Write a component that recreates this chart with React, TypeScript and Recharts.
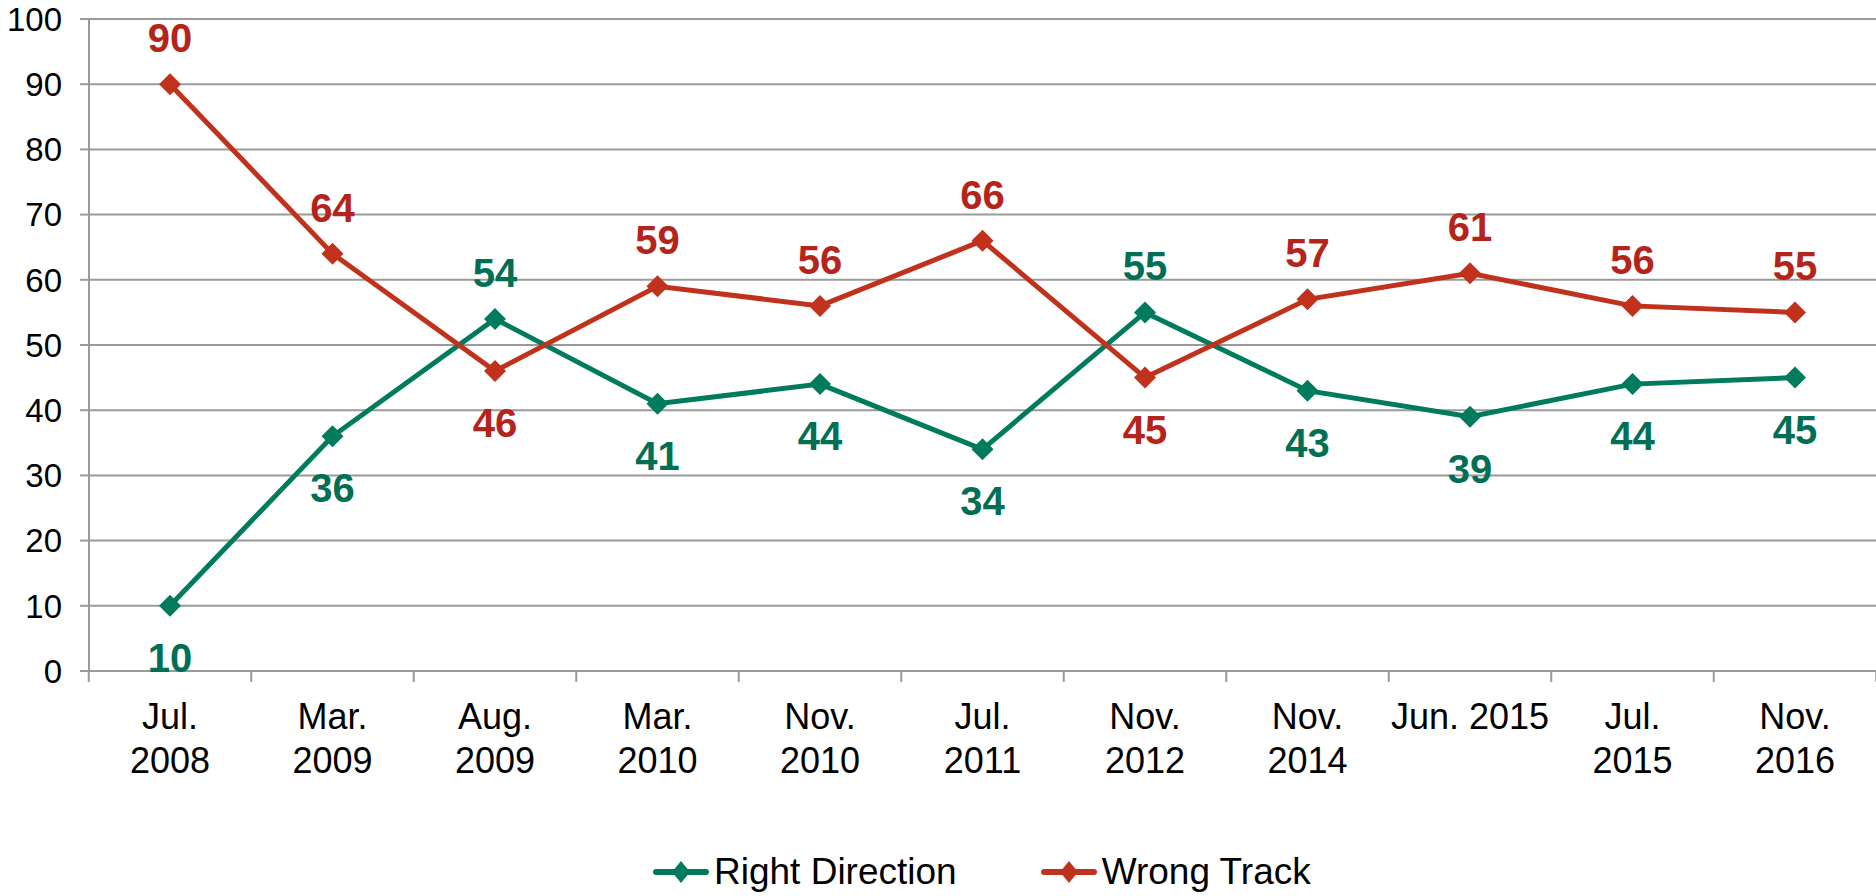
import { LineChart, Line, XAxis, YAxis, CartesianGrid, Legend } from "recharts";

// Right direction / wrong track survey series.
const periods = [
  "Jul.\n2008",
  "Mar.\n2009",
  "Aug.\n2009",
  "Mar.\n2010",
  "Nov.\n2010",
  "Jul.\n2011",
  "Nov.\n2012",
  "Nov.\n2014",
  "Jun. 2015",
  "Jul.\n2015",
  "Nov.\n2016",
];
const rightDirection = [10, 36, 54, 41, 44, 34, 55, 43, 39, 44, 45];
const wrongTrack = [90, 64, 46, 59, 56, 66, 45, 57, 61, 56, 55];
const yTicks = [0, 10, 20, 30, 40, 50, 60, 70, 80, 90, 100];

const data = periods.map((p, i) => ({
  period: p,
  right: rightDirection[i],
  wrong: wrongTrack[i],
}));

const W = 1876;
const H = 896;
const FONT = '"Liberation Sans", Arial, sans-serif';
const GRID = "#9a9a9a";
const GREEN = "#007b5d";
const RED = "#c0321c";
const GREEN_TEXT = "#006f53";
const RED_TEXT = "#b5241a";
const STEP = 162.5; // distance between categories

function Diamond({ cx, cy, fill, half = 11 }: any) {
  if (cx == null || cy == null) return null;
  return (
    <path
      d={`M${cx},${cy - half} L${cx + half},${cy} L${cx},${cy + half} L${cx - half},${cy} Z`}
      fill={fill}
    />
  );
}

function PeriodTick({ x, y, payload, index, visibleTicksCount }: any) {
  const lines = String(payload.value).split("\n");
  const half = STEP / 2;
  return (
    <g>
      <line x1={x - half} y1={y} x2={x - half} y2={y + 11} stroke={GRID} strokeWidth={2} />
      {index === visibleTicksCount - 1 && (
        <line x1={x + half} y1={y} x2={x + half} y2={y + 11} stroke={GRID} strokeWidth={2} />
      )}
      <text x={x} y={y} textAnchor="middle" fontFamily={FONT} fontSize={36} fill="#000">
        {lines.map((l, i) => (
          <tspan key={i} x={x} y={y + 58 + i * 44}>
            {l}
          </tspan>
        ))}
      </text>
    </g>
  );
}

// value labels sit above the point when that series is the higher one
function makeLabel(own: number[], other: number[], color: string) {
  return (props: any) => {
    const { x, y, index } = props;
    const above = own[index] > other[index];
    return (
      <text
        x={x}
        y={above ? y - 32 : y + 66}
        textAnchor="middle"
        fontFamily={FONT}
        fontWeight="bold"
        fontSize={40}
        fill={color}
      >
        {own[index]}
      </text>
    );
  };
}

function LegendContent() {
  const items = [
    { name: "Right Direction", color: GREEN },
    { name: "Wrong Track", color: RED },
  ];
  return (
    <div
      style={{
        height: 60,
        boxSizing: "border-box",
        paddingTop: 12,
        paddingLeft: 653,
        display: "flex",
        alignItems: "center",
        fontFamily: FONT,
        fontSize: 37,
        color: "#000",
      }}
    >
      {items.map((it, i) => (
        <div
          key={it.name}
          style={{ display: "flex", alignItems: "center", marginRight: i === 0 ? 84 : 0 }}
        >
          <svg width={56} height={26} style={{ marginRight: 5 }}>
            <line x1={3} y1={13} x2={53} y2={13} stroke={it.color} strokeWidth={6} strokeLinecap="round" />
            <path d="M28,2 L37,13 L28,24 L19,13 Z" fill={it.color} />
          </svg>
          <span>{it.name}</span>
        </div>
      ))}
    </div>
  );
}

export default function App() {
  return (
    <div style={{ width: W, height: H, background: "#fff" }}>
      <style>{`body{margin:0}`}</style>
      <LineChart width={W} height={H} data={data} margin={{ top: 19, right: 0, left: 0, bottom: 0 }}>
        <CartesianGrid vertical={false} stroke={GRID} strokeWidth={2} />
        <XAxis
          dataKey="period"
          padding={{ left: 81, right: 81 }}
          axisLine={{ stroke: GRID, strokeWidth: 2 }}
          tickLine={false}
          tickSize={0}
          tickMargin={0}
          height={165}
          interval={0}
          tick={<PeriodTick />}
        />
        <YAxis
          domain={[0, 100]}
          ticks={yTicks}
          width={89}
          axisLine={{ stroke: GRID, strokeWidth: 2 }}
          tickLine={{ stroke: GRID, strokeWidth: 2 }}
          tickSize={9}
          tickMargin={18}
          tick={{ fill: "#000", fontSize: 33, fontFamily: FONT }}
        />
        <Legend verticalAlign="bottom" content={<LegendContent />} />
        <Line
          dataKey="right"
          name="Right Direction"
          stroke={GREEN}
          strokeWidth={5}
          dot={<Diamond fill={GREEN} />}
          activeDot={false}
          label={makeLabel(rightDirection, wrongTrack, GREEN_TEXT)}
          isAnimationActive={false}
        />
        <Line
          dataKey="wrong"
          name="Wrong Track"
          stroke={RED}
          strokeWidth={5}
          dot={<Diamond fill={RED} />}
          activeDot={false}
          label={makeLabel(wrongTrack, rightDirection, RED_TEXT)}
          isAnimationActive={false}
        />
      </LineChart>
    </div>
  );
}
